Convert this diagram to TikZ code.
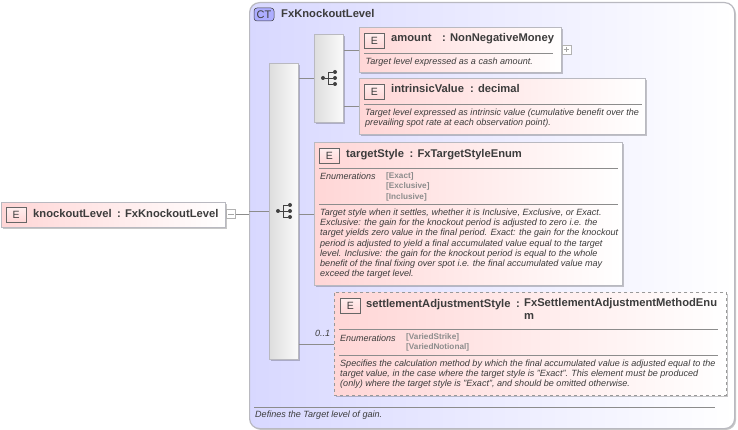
\documentclass[tikz,border=0pt]{standalone}
\usepackage{fontspec}
\setmainfont{Liberation Sans}
\usetikzlibrary{shadows,calc}
\definecolor{frameG}{HTML}{B9B9C0}
\definecolor{lineG}{HTML}{8C8C8C}
\definecolor{txtD}{HTML}{3C3C3C}
\definecolor{pinkL}{HTML}{FFD6D6}
\definecolor{lav}{HTML}{D8D8FF}
\tikzset{
  x=1pt,y=-1pt,
  softshadow/.style={drop shadow={shadow xshift=1.4pt,shadow yshift=-1.4pt,fill=black,opacity=.22}},
  ctbox/.style={anchor=north west,inner sep=0,rounded corners=10pt,draw=frameG,line width=1.2pt,left color=lav,right color=white,softshadow},
  ctbadge/.style={anchor=center,inner sep=0,minimum width=20pt,minimum height=13pt,rounded corners=3pt,draw=txtD,line width=.5pt,fill=lav!80!blue,font=\fontsize{11}{12}\selectfont,text=txtD},
  seqbox/.style={anchor=north west,inner sep=0,draw=frameG,line width=.8pt,left color=black!13,right color=black!2,softshadow},
  elbox/.style={anchor=north west,inner sep=0,draw=frameG,line width=1pt,left color=pinkL,right color=white,softshadow},
  optbox/.style={anchor=north west,inner sep=0,draw=black!40,line width=.7pt,dashed,left color=pinkL,right color=white,softshadow},
  ebadge/.style={anchor=north west,inner sep=0,minimum width=20pt,minimum height=15pt,draw=black!60,line width=.5pt,top color=pinkL!40,bottom color=pinkL!100!red,font=\fontsize{10.5}{12}\selectfont,text=txtD},
  titletxt/.style={anchor=base west,inner sep=0,font=\fontsize{11.2}{13}\selectfont\bfseries,text=txtD},
  desc/.style={anchor=north west,inner sep=0,align=left,font=\fontsize{9.05}{10.25}\selectfont\itshape,text=txtD},
  enumlab/.style={anchor=base west,inner sep=0,font=\fontsize{9}{10}\selectfont\itshape,text=txtD},
  enumval/.style={anchor=north west,inner sep=0,align=left,font=\fontsize{8.2}{10.5}\selectfont\bfseries,text=black!45},
  sep/.style={draw=lineG,line width=.7pt},
  conn/.style={draw=lineG,line width=.7pt},
  togglebox/.style={anchor=north west,inner sep=0,minimum width=9pt,minimum height=9pt,draw=black!30,line width=.5pt,fill=white},
  symb/.style={draw=black!75,line width=.8pt},
  symbdot/.style={circle,fill=black!75,inner sep=0,minimum size=4pt},
}
\newcommand{\seqsym}[3]{%
  \node[symbdot] (#1l) at (#2-6,#3) {};
  \node[symbdot] (#1a) at (#2+6,#3-6) {};
  \node[symbdot] (#1b) at (#2+6,#3) {};
  \node[symbdot] (#1c) at (#2+6,#3+6) {};
  \draw[symb] (#1l) -- (#1b);
  \draw[symb] (#1a) -| ($(#1l)!.45!(#1b)$) |- (#1c);
}
\begin{document}
\begin{tikzpicture}
\useasboundingbox (0,0) rectangle (738,430);
\fill[white] (0,0) rectangle (738,430);

% complex type frame
\node[ctbox,minimum width=485pt,minimum height=426pt] (ct) at (249,2) {};
\node[ctbadge] (ctb) at (264,14.5) {CT};
\node[titletxt] (ctt) at (281,18) {FxKnockoutLevel};
\coordinate (fa) at (254,407);
\coordinate (fb) at (715,407);
\draw[sep] (fa) -- (fb);
\node[desc] (ctd) at (255,411) {Defines the Target level of gain.};

% root element
\node[elbox,minimum width=224pt,minimum height=25pt] (root) at (1,202) {};
\node[ebadge] (rootb) at (6,207) {E};
\node[titletxt] (roott) at (33,217.5) {knockoutLevel};
\node[titletxt] (rootc) at (117,217.5) {: FxKnockoutLevel};
\node[togglebox] (rootm) at (226,209.5) {};
\draw[draw=black!35,line width=.6pt] ($(rootm.west)+(2,0)$) -- ($(rootm.east)+(-2,0)$);

% sequences
\node[seqbox,minimum width=29pt,minimum height=296pt] (seqA) at (269,63) {};
\node[seqbox,minimum width=29pt,minimum height=88pt] (seqB) at (314,34) {};
\seqsym{sa}{284}{211}
\seqsym{sb}{329}{78}

% amount
\node[elbox,minimum width=202pt,minimum height=45pt] (amt) at (359,27) {};
\node[ebadge] (amtb) at (364,33) {E};
\node[titletxt] (amtt) at (391,42) {amount};
\node[titletxt] (amtc) at (442,42) {: NonNegativeMoney};
\coordinate (amta) at (364,53);
\coordinate (amtz) at (553,53);
\draw[sep] (amta) -- (amtz);
\node[desc] (amtd) at (365.5,57.5) {Target level expressed as a cash amount.};
\node[togglebox] (amtp) at (561.5,45) {};
\draw[draw=black!35,line width=.6pt] ($(amtp.west)+(2,0)$) -- ($(amtp.east)+(-2,0)$);
\draw[draw=black!35,line width=.6pt] ($(amtp.north)+(0,2)$) -- ($(amtp.south)+(0,-2)$);

% intrinsicValue
\node[elbox,minimum width=286pt,minimum height=56pt] (intr) at (359,78) {};
\node[ebadge] (intrb) at (364,84) {E};
\node[titletxt] (intrt) at (391,93) {intrinsicValue};
\node[titletxt] (intrc) at (470,93) {: decimal};
\coordinate (intra) at (364,104);
\coordinate (intrz) at (642,104);
\draw[sep] (intra) -- (intrz);
\node[desc] (intrd) at (365,108.5) {Target level expressed as intrinsic value (cumulative benefit over the\\prevailing spot rate at each observation point).};

% targetStyle
\node[elbox,minimum width=308pt,minimum height=143pt] (tgt) at (314,142) {};
\node[ebadge] (tgtb) at (319,148) {E};
\node[titletxt] (tgtt) at (346,157.5) {targetStyle};
\node[titletxt] (tgtc) at (409.5,157.5) {: FxTargetStyleEnum};
\coordinate (tgta) at (319,168);
\coordinate (tgtz) at (618,168);
\draw[sep] (tgta) -- (tgtz);
\node[enumlab] (tgtl) at (320,179.5) {Enumerations};
\node[enumval] (tgtv) at (386,172) {{[Exact]}\\{[Exclusive]}\\{[Inclusive]}};
\coordinate (tgtc1) at (319,204.5);
\coordinate (tgtc2) at (618,204.5);
\draw[sep] (tgtc1) -- (tgtc2);
\node[desc] (tgtd) at (320,208.5) {Target style when it settles, whether it is Inclusive, Exclusive, or Exact.\\Exclusive: the gain for the knockout period is adjusted to zero i.e. the\\target yields zero value in the final period. Exact: the gain for the knockout\\period is adjusted to yield a final accumulated value equal to the target\\level. Inclusive: the gain for the knockout period is equal to the whole\\benefit of the final fixing over spot i.e. the final accumulated value may\\exceed the target level.};

% settlementAdjustmentStyle
\node[optbox,minimum width=392pt,minimum height=103pt] (set) at (334,292) {};
\node[ebadge] (setb) at (340,298) {E};
\node[titletxt] (sett) at (366,307.5) {settlementAdjustmentStyle};
\node[titletxt] (setc) at (516,307.5) {:};
\node[titletxt,align=left,anchor=north west] (setn) at (524,298.5) {FxSettlementAdjustmentMethodEnu\\m};
\coordinate (seta) at (339,329);
\coordinate (setz) at (718,329);
\draw[sep] (seta) -- (setz);
\node[enumlab] (setl) at (340,341) {Enumerations};
\node[enumval] (setv) at (406,333) {{[VariedStrike]}\\{[VariedNotional]}};
\coordinate (setc1) at (339,355);
\coordinate (setc2) at (718,355);
\draw[sep] (setc1) -- (setc2);
\node[desc] (setd) at (340,359.5) {Specifies the calculation method by which the final accumulated value is adjusted equal to the\\target value, in the case where the target style is "Exact". This element must be produced\\(only) where the target style is "Exact", and should be omitted otherwise.};
\node[enumlab] (occ) at (315,336) {0..1};

% connectors
\coordinate (rootj) at (ct.west |- rootm.east);
\draw[conn] (rootm.east) -- (rootj);
\draw[conn] (ct.west |- seqA.west) -- (seqA.west);
\draw[conn] (seqA.east |- seqB.west) -- (seqB.west);
\draw[conn] (seqA.east |- tgt.west) -- (tgt.west);
\draw[conn] (seqA.east |- set.west) -- (set.west);
\draw[conn] (seqB.east |- amt.west) -- (amt.west);
\draw[conn] (seqB.east |- intr.west) -- (intr.west);
\end{tikzpicture}
\end{document}
